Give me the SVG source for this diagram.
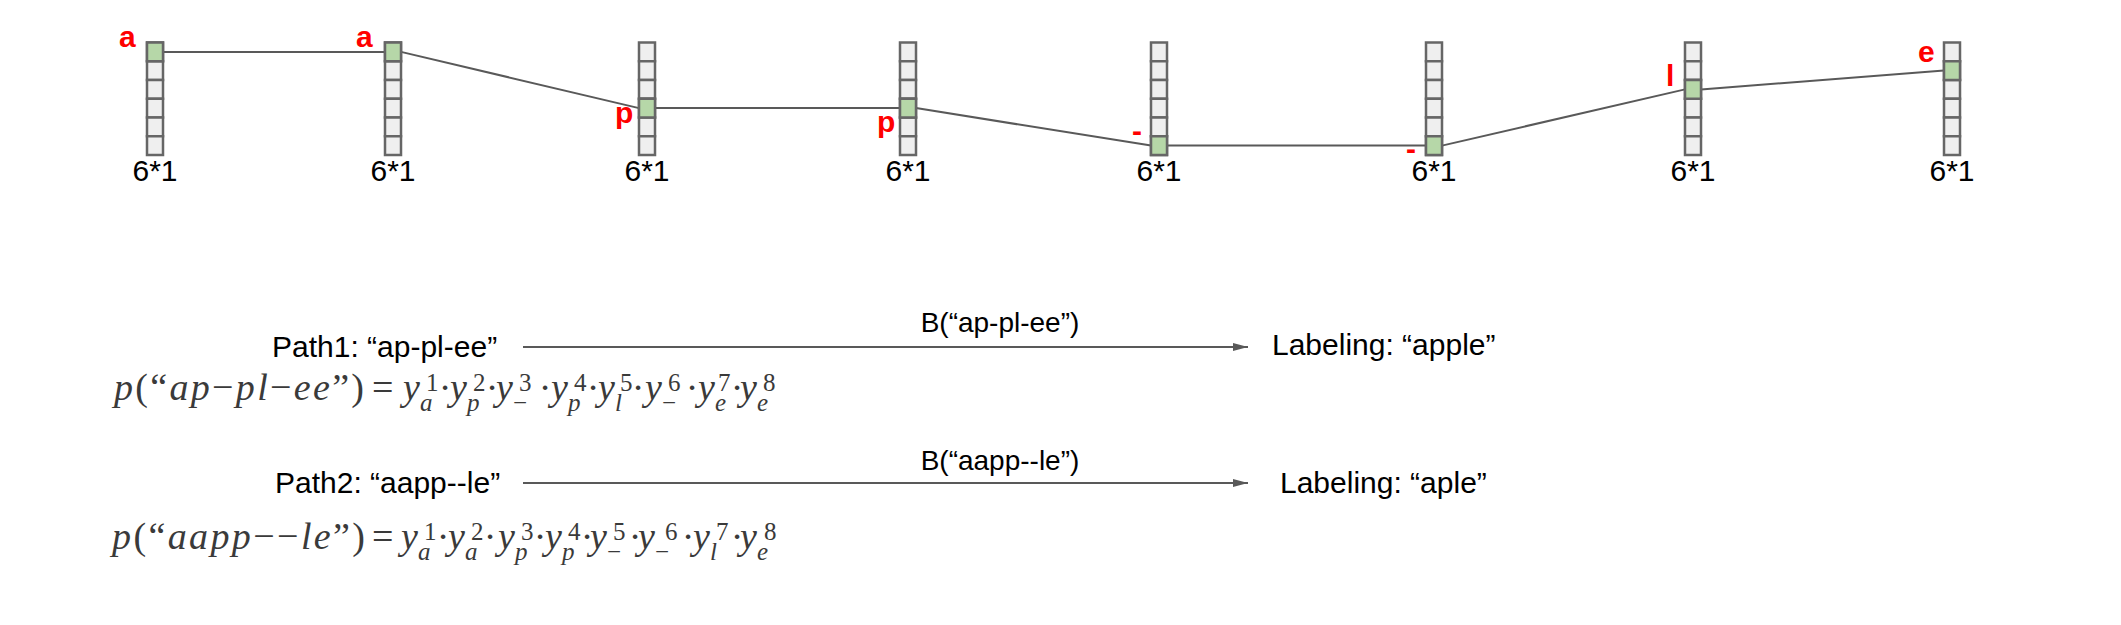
<svg xmlns="http://www.w3.org/2000/svg" xmlns:xlink="http://www.w3.org/1999/xlink" width="2121" height="625" viewBox="0 0 2121 625">
<style>
.cell{fill:#efefef;stroke:#666;stroke-width:2.5}
.hit{fill:#b6d7a8;stroke:#666;stroke-width:2.5}
.dim{font-family:"Liberation Sans",Arial,sans-serif;font-size:30px;fill:#000;text-anchor:middle}
.lbl{font-family:"Liberation Sans",Arial,sans-serif;font-size:30px;font-weight:bold;fill:#f00}
.conn{stroke:#595959;stroke-width:2;fill:none}
.arr{stroke:#595959;stroke-width:2;fill:none;marker-end:url(#ah)}
.txt{font-family:"Liberation Sans",Arial,sans-serif;font-size:30px;fill:#000}
.btxt{font-family:"Liberation Sans",Arial,sans-serif;font-size:28px;fill:#000;text-anchor:middle}
.m{font-family:"Liberation Serif","Times New Roman",serif;font-size:38px;fill:#3a3a3a}
.it{font-style:italic}
.s{font-family:"Liberation Serif","Times New Roman",serif;font-size:25px;fill:#3a3a3a}
.dot{font-family:"Liberation Serif","Times New Roman",serif;font-size:38px;fill:#3a3a3a;text-anchor:middle}
</style>
<defs>
<g id="column">
<rect class="cell" x="0" y="42.5" width="16" height="18.75"/>
<rect class="cell" x="0" y="61.25" width="16" height="18.75"/>
<rect class="cell" x="0" y="80" width="16" height="18.75"/>
<rect class="cell" x="0" y="98.75" width="16" height="18.75"/>
<rect class="cell" x="0" y="117.5" width="16" height="18.75"/>
<rect class="cell" x="0" y="136.25" width="16" height="18.75"/>
</g>
<marker id="ah" viewBox="0 0 15 8" refX="15" refY="4" markerWidth="15" markerHeight="8" markerUnits="userSpaceOnUse" orient="auto">
<path d="M0,0 L15,4 L0,8 z" fill="#595959"/>
</marker>
</defs>

<g id="connectors">
<line class="conn" x1="163" y1="51.9" x2="385" y2="51.9"/>
<line class="conn" x1="401" y1="51.9" x2="639" y2="108.1"/>
<line class="conn" x1="655" y1="108.1" x2="900" y2="108.1"/>
<line class="conn" x1="916" y1="108.1" x2="1151" y2="145.6"/>
<line class="conn" x1="1167" y1="145.6" x2="1426" y2="145.6"/>
<line class="conn" x1="1442" y1="145.6" x2="1685" y2="89.4"/>
<line class="conn" x1="1701" y1="89.4" x2="1944" y2="70.6"/>
<line class="arr" x1="523" y1="347" x2="1248" y2="347"/>
<line class="arr" x1="523" y1="483" x2="1248" y2="483"/>
</g>

<g id="node1">
<use xlink:href="#column" x="147"/>
<rect class="hit" x="147" y="42.5" width="16" height="18.75"/>
<text class="lbl" x="119" y="47">a</text>
<text class="dim" x="155" y="181">6*1</text>
</g>
<g id="node2">
<use xlink:href="#column" x="385"/>
<rect class="hit" x="385" y="42.5" width="16" height="18.75"/>
<text class="lbl" x="356" y="47">a</text>
<text class="dim" x="393" y="181">6*1</text>
</g>
<g id="node3">
<use xlink:href="#column" x="639"/>
<rect class="hit" x="639" y="98.75" width="16" height="18.75"/>
<text class="lbl" x="615" y="123">p</text>
<text class="dim" x="647" y="181">6*1</text>
</g>
<g id="node4">
<use xlink:href="#column" x="900"/>
<rect class="hit" x="900" y="98.75" width="16" height="18.75"/>
<text class="lbl" x="877" y="132">p</text>
<text class="dim" x="908" y="181">6*1</text>
</g>
<g id="node5">
<use xlink:href="#column" x="1151"/>
<rect class="hit" x="1151" y="136.25" width="16" height="18.75"/>
<text class="lbl" x="1132" y="141">-</text>
<text class="dim" x="1159" y="181">6*1</text>
</g>
<g id="node6">
<use xlink:href="#column" x="1426"/>
<rect class="hit" x="1426" y="136.25" width="16" height="18.75"/>
<text class="lbl" x="1406" y="159">-</text>
<text class="dim" x="1434" y="181">6*1</text>
</g>
<g id="node7">
<use xlink:href="#column" x="1685"/>
<rect class="hit" x="1685" y="80" width="16" height="18.75"/>
<text class="lbl" x="1666" y="86">l</text>
<text class="dim" x="1693" y="181">6*1</text>
</g>
<g id="node8">
<use xlink:href="#column" x="1944"/>
<rect class="hit" x="1944" y="61.25" width="16" height="18.75"/>
<text class="lbl" x="1918" y="62">e</text>
<text class="dim" x="1952" y="181">6*1</text>
</g>

<g id="path1">
<text class="txt" x="272" y="357">Path1: “ap-pl-ee”</text>
<text class="btxt" x="1000" y="332">B(“ap-pl-ee”)</text>
<text class="txt" x="1272" y="355">Labeling: “apple”</text>
</g>
<g id="path2">
<text class="txt" x="275" y="493">Path2: “aapp--le”</text>
<text class="btxt" x="1000" y="470">B(“aapp--le”)</text>
<text class="txt" x="1280" y="493">Labeling: “aple”</text>
</g>

<g id="formula1">
<text class="m" x="114" y="400" textLength="250" lengthAdjust="spacing"><tspan class="it">p</tspan>(“<tspan class="it">ap</tspan>−<tspan class="it">pl</tspan>−<tspan class="it">ee</tspan>”)</text>
<text class="m" x="372" y="400">=</text>
<text class="m it" x="403" y="400">y</text><text class="s" x="426" y="391">1</text><text class="s it" x="420" y="411">a</text><text class="dot" x="445" y="400">·</text>
<text class="m it" x="450" y="400">y</text><text class="s" x="473" y="391">2</text><text class="s it" x="467" y="411">p</text><text class="dot" x="492" y="400">·</text>
<text class="m it" x="496" y="400">y</text><text class="s" x="519" y="391">3</text><text class="s" x="513" y="411">−</text><text class="dot" x="545" y="400">·</text>
<text class="m it" x="551" y="400">y</text><text class="s" x="574" y="391">4</text><text class="s it" x="568" y="411">p</text><text class="dot" x="593" y="400">·</text>
<text class="m it" x="598" y="400">y</text><text class="s" x="620" y="391">5</text><text class="s it" x="615" y="411">l</text><text class="dot" x="638" y="400">·</text>
<text class="m it" x="645" y="400">y</text><text class="s" x="668" y="391">6</text><text class="s" x="662" y="411">−</text><text class="dot" x="692" y="400">·</text>
<text class="m it" x="698" y="400">y</text><text class="s" x="718" y="391">7</text><text class="s it" x="715" y="411">e</text><text class="dot" x="737" y="400">·</text>
<text class="m it" x="740" y="400">y</text><text class="s" x="763" y="391">8</text><text class="s it" x="757" y="411">e</text>
</g>

<g id="formula2">
<text class="m" x="112" y="549" textLength="253" lengthAdjust="spacing"><tspan class="it">p</tspan>(“<tspan class="it">aapp</tspan>−−<tspan class="it">le</tspan>”)</text>
<text class="m" x="372" y="549">=</text>
<text class="m it" x="401" y="549">y</text><text class="s" x="424" y="540">1</text><text class="s it" x="418" y="560">a</text><text class="dot" x="443" y="549">·</text>
<text class="m it" x="448" y="549">y</text><text class="s" x="471" y="540">2</text><text class="s it" x="465" y="560">a</text><text class="dot" x="490" y="549">·</text>
<text class="m it" x="498" y="549">y</text><text class="s" x="521" y="540">3</text><text class="s it" x="515" y="560">p</text><text class="dot" x="540" y="549">·</text>
<text class="m it" x="545" y="549">y</text><text class="s" x="568" y="540">4</text><text class="s it" x="562" y="560">p</text><text class="dot" x="587" y="549">·</text>
<text class="m it" x="590" y="549">y</text><text class="s" x="613" y="540">5</text><text class="s" x="607" y="560">−</text><text class="dot" x="635" y="549">·</text>
<text class="m it" x="638" y="549">y</text><text class="s" x="665" y="540">6</text><text class="s" x="655" y="560">−</text><text class="dot" x="688" y="549">·</text>
<text class="m it" x="693" y="549">y</text><text class="s" x="716" y="540">7</text><text class="s it" x="710" y="560">l</text><text class="dot" x="737" y="549">·</text>
<text class="m it" x="740" y="549">y</text><text class="s" x="764" y="540">8</text><text class="s it" x="757" y="560">e</text>
</g>
</svg>
